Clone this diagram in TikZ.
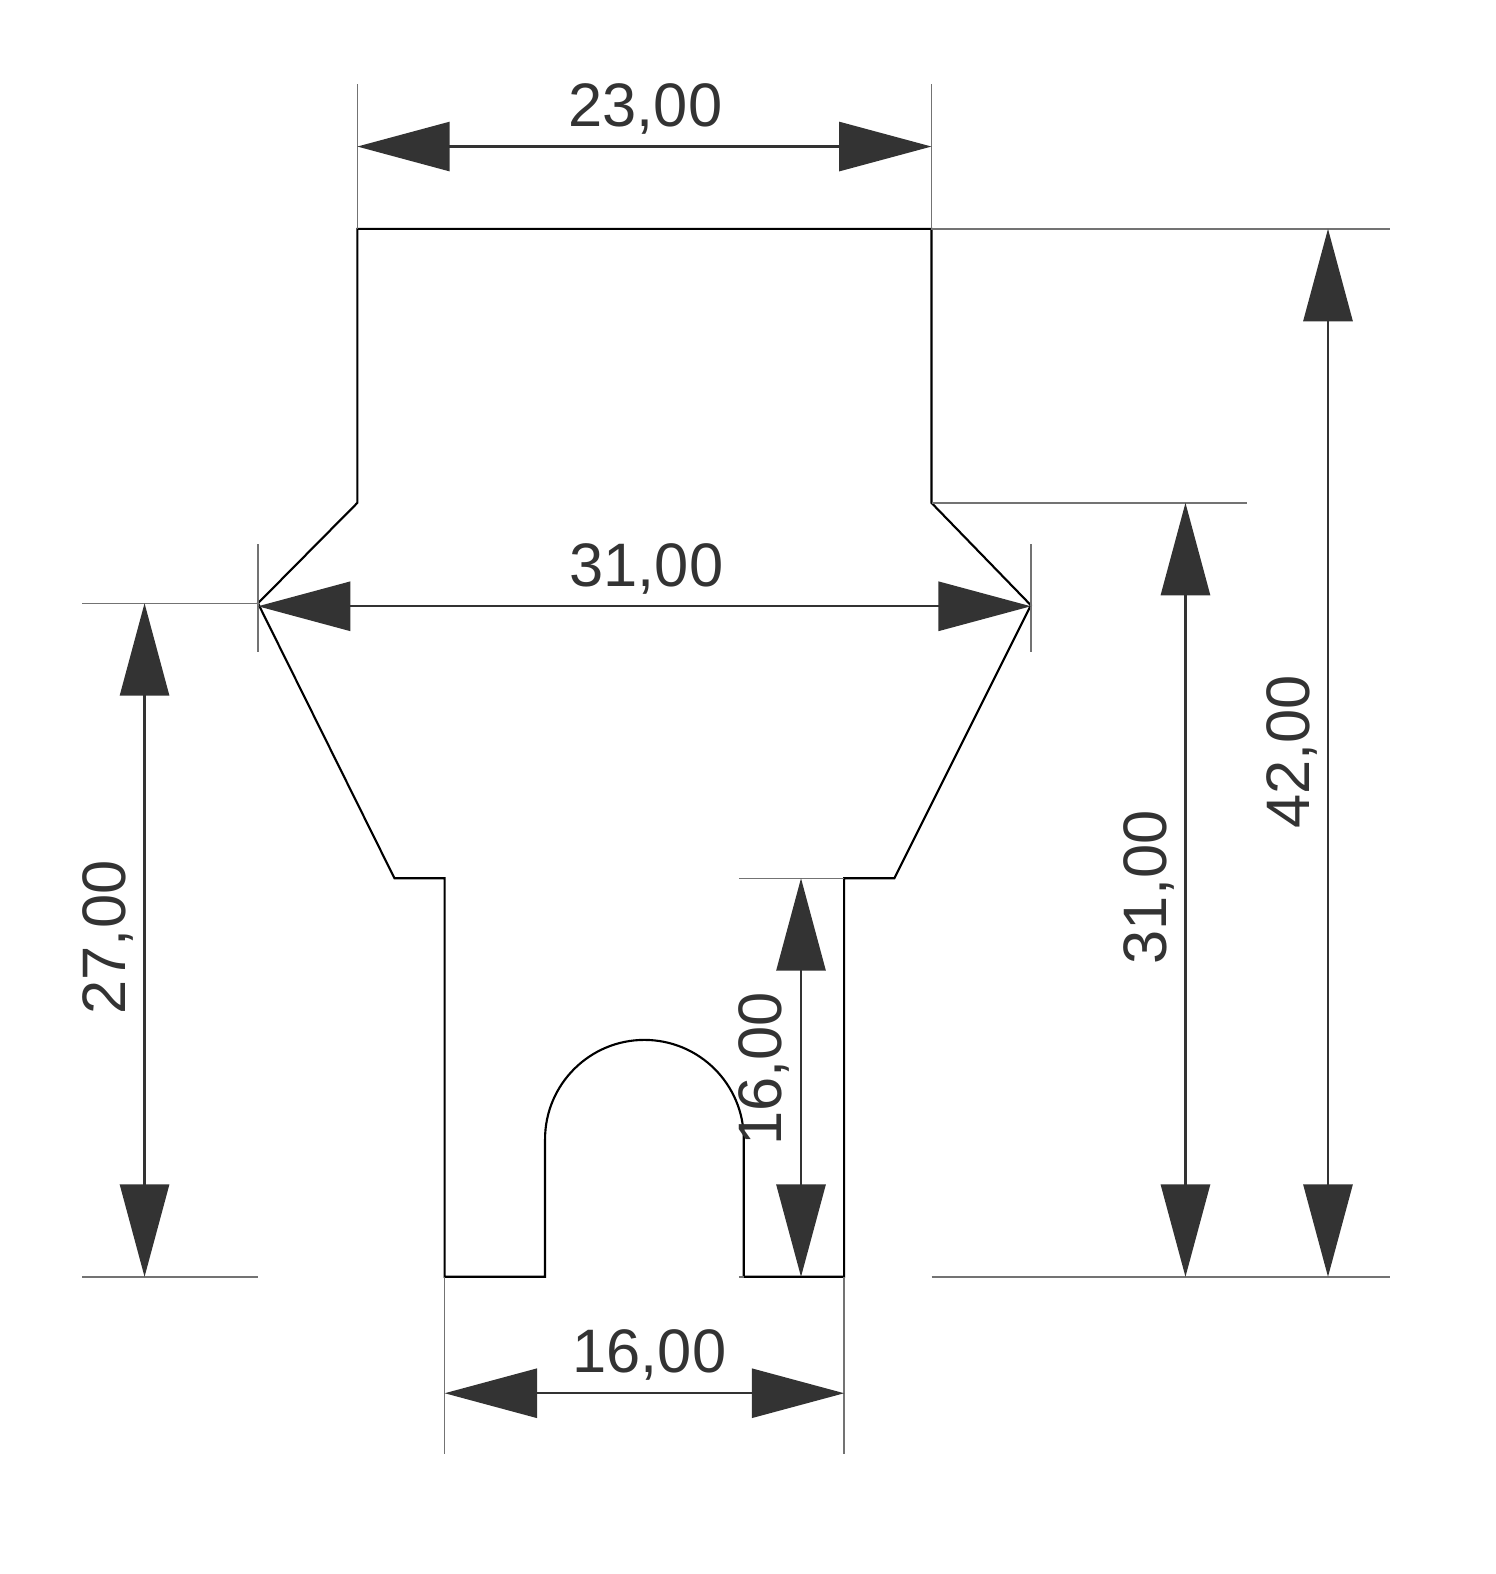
\documentclass[tikz,border=0pt]{standalone}
\usepackage{fontspec}
\setmainfont{Liberation Sans}
\usetikzlibrary{arrows.meta}
\definecolor{dimgrey}{HTML}{333333}
\tikzset{
    outline/.style={black, line width=0.6pt},
    extline/.style={black!55, line width=0.4pt},
    dimline/.style={dimgrey, line width=0.6pt, {Triangle[length=0.92cm,width=0.49cm]}-{Triangle[length=0.92cm,width=0.49cm]}},
    dimtext/.style={dimgrey, font=\fontsize{17.4}{20}\selectfont, inner sep=0pt, text depth=0pt}
}
\begin{document}
\begin{tikzpicture}[x=0.01cm, y=-0.01cm]
    \useasboundingbox (0,0) rectangle (1489.4,1568.1);

    % Part outline
    \coordinate (topL) at (356,228);
    \coordinate (topR) at (928,228);
    \coordinate (shoulderR) at (928,501);
    \coordinate (tipR) at (1027,603);
    \coordinate (waistR) at (891,875);
    \coordinate (stemTopR) at (841,875);
    \coordinate (stemBotR) at (841,1272);
    \coordinate (slotBotR) at (741,1272);
    \coordinate (slotArcR) at (741,1135);
    \coordinate (slotArcL) at (543,1135);
    \coordinate (slotBotL) at (543,1272);
    \coordinate (stemBotL) at (443,1272);
    \coordinate (stemTopL) at (443,875);
    \coordinate (waistL) at (393,875);
    \coordinate (tipL) at (257,601);
    \coordinate (shoulderL) at (356,501);
    \draw[outline] (topL) -- (topR) -- (shoulderR) -- (tipR) -- (waistR) -- (stemTopR) -- (stemBotR)
        -- (slotBotR) -- (slotArcR) arc[start angle=0, end angle=-180, radius=99]
        -- (slotBotL) -- (stemBotL) -- (stemTopL) -- (waistL) -- (tipL) -- (shoulderL) -- cycle;

    % Extension lines
    \coordinate (extTopL) at (356,84);
    \coordinate (extTopR) at (928,84);
    \coordinate (extRight) at (1385,228);
    \coordinate (extMid) at (1242,501);
    \coordinate (extTipLa) at (257,542);
    \coordinate (extTipLb) at (257,650);
    \coordinate (extTipRa) at (1027,542);
    \coordinate (extTipRb) at (1027,650);
    \coordinate (extLeftA) at (82,601);
    \coordinate (extLeftB) at (82,1272);
    \coordinate (extLeftC) at (257,1272);
    \coordinate (extBotA) at (928,1272);
    \coordinate (extBotB) at (1385,1272);
    \coordinate (extStem) at (736,875);
    \coordinate (extSlot) at (736,1272);
    \coordinate (extDownL) at (443,1449);
    \coordinate (extDownR) at (841,1449);
    \draw[extline] (extTopL) -- (topL);
    \draw[extline] (extTopR) -- (topR) -- (extRight);
    \draw[extline] (shoulderR) -- (extMid);
    \draw[extline] (extTipLa) -- (extTipLb);
    \draw[extline] (extTipRa) -- (extTipRb);
    \draw[extline] (extLeftA) -- (tipL);
    \draw[extline] (extLeftB) -- (extLeftC);
    \draw[extline] (extBotA) -- (extBotB);
    \draw[extline] (extStem) -- (stemTopR);
    \draw[extline] (extSlot) -- (slotBotR);
    \draw[extline] (stemBotL) -- (extDownL);
    \draw[extline] (stemBotR) -- (extDownR);

    % Dimension arrows
    \coordinate (wTopL) at (356,146);
    \coordinate (wTopR) at (928,146);
    \coordinate (wMidL) at (257,604);
    \coordinate (wMidR) at (1027,604);
    \coordinate (wBotL) at (443,1388);
    \coordinate (wBotR) at (841,1388);
    \coordinate (hLeftA) at (144,601);
    \coordinate (hLeftB) at (144,1272);
    \coordinate (hStemA) at (798,875);
    \coordinate (hStemB) at (798,1272);
    \coordinate (hMidA) at (1181,501);
    \coordinate (hMidB) at (1181,1272);
    \coordinate (hFullA) at (1323,228);
    \coordinate (hFullB) at (1323,1272);
    \draw[dimline] (wTopL) -- (wTopR);
    \draw[dimline] (wMidL) -- (wMidR);
    \draw[dimline] (wBotL) -- (wBotR);
    \draw[dimline] (hLeftA) -- (hLeftB);
    \draw[dimline] (hStemA) -- (hStemB);
    \draw[dimline] (hMidA) -- (hMidB);
    \draw[dimline] (hFullA) -- (hFullB);

    % Labels
    \node[dimtext] (lblTop) at (643,105) {23,00};
    \node[dimtext] (lblMid) at (644,563) {31,00};
    \node[dimtext] (lblBot) at (647,1346) {16,00};
    \node[dimtext, rotate=90] (lblLeft) at (104,934) {27,00};
    \node[dimtext, rotate=90] (lblStem) at (757,1065) {16,00};
    \node[dimtext, rotate=90] (lblRightA) at (1141,884) {31,00};
    \node[dimtext, rotate=90] (lblRightB) at (1283,749) {42,00};
\end{tikzpicture}
\end{document}
